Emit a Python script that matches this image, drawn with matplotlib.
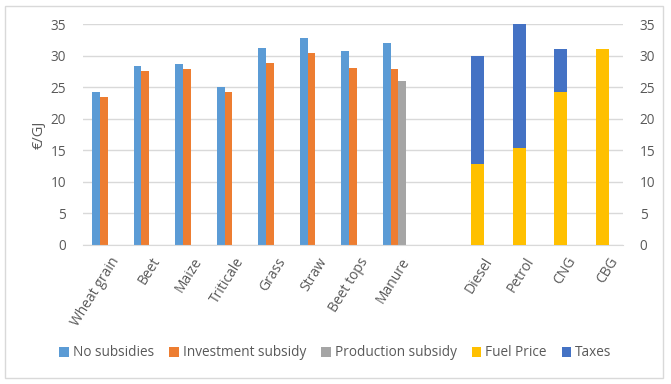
import matplotlib.pyplot as plt
import matplotlib.patches as mpatches
import matplotlib.transforms as mtransforms
import numpy as np

# feedstock costs (left group) and fuel prices (right group), EUR/GJ
categories = ['Wheat grain', 'Beet', 'Maize', 'Triticale', 'Grass', 'Straw',
              'Beet tops', 'Manure', '', 'Diesel', 'Petrol', 'CNG', 'CBG']
feedstocks = categories[:8]
fuels = categories[9:]

no_subsidies = [24.3, 28.4, 28.7, 25.0, 31.2, 32.8, 30.7, 31.95]
investment_subsidy = [23.5, 27.6, 27.9, 24.3, 28.8, 30.4, 28.05, 27.9]
production_subsidy = [np.nan, np.nan, np.nan, np.nan, np.nan, np.nan, np.nan, 26.0]

fuel_price = [12.9, 15.3, 24.2, 31.0]
taxes = [17.0, 19.9, 6.8, 0.0]

c_blue = '#5B9BD5'
c_orange = '#ED7D31'
c_gray = '#A5A5A5'
c_yellow = '#FFC000'
c_taxes = '#4472C4'
txt = '#595959'

plt.rcParams['font.family'] = ['Open Sans', 'DejaVu Sans']
plt.rcParams['font.size'] = 9

fig = plt.figure(figsize=(6.71, 3.84), dpi=100)
fig.patches.append(mpatches.Rectangle((5 / 671, 6 / 384), 658 / 671, 372 / 384,
                                      transform=fig.transFigure, fill=False,
                                      edgecolor='#D9D9D9', linewidth=1))
ax = fig.add_axes([83 / 671, 1 - 245 / 384, 540 / 671, 221 / 384])
ax2 = ax.twinx()

x = np.arange(len(categories))
xf = np.arange(len(feedstocks))
xs = np.arange(9, 9 + len(fuels))
w = 0.185

ax.bar(xf - w, no_subsidies, w, color=c_blue, label='No subsidies')
ax.bar(xf, investment_subsidy, w, color=c_orange, label='Investment subsidy')
ax.bar(xf + w, production_subsidy, w, color=c_gray, label='Production subsidy')

ax2.bar(xs, fuel_price, 0.31, color=c_yellow, label='Fuel Price')
ax2.bar(xs, taxes, 0.31, bottom=fuel_price, color=c_taxes, label='Taxes')

for a in (ax, ax2):
    a.set_ylim(0, 35)
    a.set_yticks(range(0, 36, 5))
    a.set_xlim(-0.5, len(categories) - 0.5)
    for s in a.spines.values():
        s.set_visible(False)
    a.tick_params(axis='y', length=0, colors=txt, labelsize=9.8, pad=12)

ax.spines['bottom'].set_visible(True)
ax.spines['bottom'].set_color('#D9D9D9')
ax.grid(axis='y', color='#D9D9D9', linewidth=1)
ax.set_axisbelow(True)

ax.set_xticks(x)
ax.set_xticklabels(categories, rotation=58, ha='right', rotation_mode='anchor',
                   color=txt, fontsize=10)
ax.tick_params(axis='x', length=0, pad=7)
# Excel puts the label end a bit right of the tick
shift = mtransforms.ScaledTranslation(6 / 100, 0, fig.dpi_scale_trans)
for lab in ax.get_xticklabels():
    lab.set_transform(lab.get_transform() + shift)
ax.set_ylabel('€/GJ', color=txt, fontsize=10.5, labelpad=3)

h1, l1 = ax.get_legend_handles_labels()
h2, l2 = ax2.get_legend_handles_labels()
fig.legend(h1 + h2, l1 + l2, loc='center', bbox_to_anchor=(0.5, 1 - 353 / 384),
           ncol=5, frameon=False, fontsize=9.8, handlelength=0.7, handleheight=0.7,
           handletextpad=0.3, columnspacing=1.1, labelcolor=txt)

fig.savefig('out.png', dpi=100)
